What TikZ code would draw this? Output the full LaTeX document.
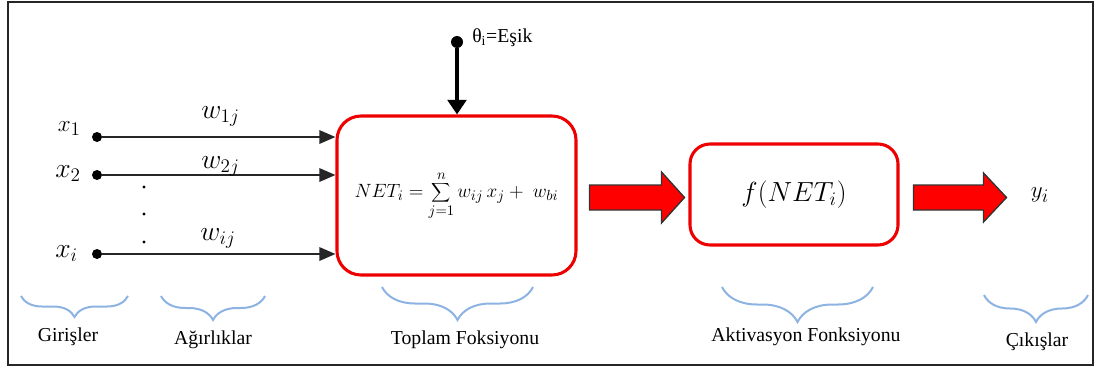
\documentclass[tikz,border=0pt]{standalone}
\usepackage{fontspec}
\setmainfont{Liberation Serif}
\usetikzlibrary{arrows.meta,decorations.pathreplacing,calc}
\definecolor{boxred}{RGB}{238,0,0}
\definecolor{braceblue}{RGB}{141,179,226}
\begin{document}
\begin{tikzpicture}[x=0.75pt,y=-0.75pt,
  lbl/.style={font=\fontsize{14.8}{17}\selectfont, inner sep=0pt},
  redbox/.style={draw=boxred, line width=2.3pt, fill=white},
  indot/.style={circle, fill=black, inner sep=0pt, minimum size=7.5pt},
  thdot/.style={circle, fill=black, inner sep=0pt, minimum size=9pt},
  inarrow/.style={draw=black!85, line width=1.5pt, -{Triangle[length=12pt,width=10pt]}},
  tharrow/.style={draw=black, line width=3.2pt, -{Triangle[length=11pt,width=14pt]}},
  blockarrow/.style={fill=red, draw=black!80, line width=1pt, line join=miter},
  brc/.style={draw=braceblue, line width=1.5pt, decorate,
    decoration={brace, mirror, amplitude=#1}}
]
\useasboundingbox (0,0) rectangle (1096,372);
\draw[line width=1.5pt, black!85] (8,2) rectangle (1093,365);

% boxes
\node[redbox, rounded corners=18pt, minimum width=179.25pt, minimum height=119.25pt,
  font=\fontsize{15}{18}\selectfont] (box1) at (456.5,195.5)
  {$\displaystyle NET_i=\sum_{j=1}^{n} w_{ij}\,x_j+\ w_{bi}$};
\node[redbox, rounded corners=15pt, minimum width=156pt, minimum height=75.75pt,
  font=\fontsize{20}{24}\selectfont] (box2) at (794,194.5) {$f(NET_i)$};

% inputs
\node[indot] (d1) at (97,137) {};
\node[indot] (d2) at (97,175) {};
\node[indot] (d3) at (97,254) {};
\node[anchor=base east, inner sep=0pt, font=\fontsize{19}{22}\selectfont] (x1) at (81,131) {$x_1$};
\node[anchor=base east, inner sep=0pt, font=\fontsize{20}{23}\selectfont] (x2) at (81,177) {$x_2$};
\node[anchor=base east, inner sep=0pt, font=\fontsize{21}{24}\selectfont] (xi) at (78,257) {$x_i$};
\draw[inarrow] (d1) -- (d1 -| box1.west);
\draw[inarrow] (d2) -- (d2 -| box1.west);
\draw[inarrow] (d3) -- (d3 -| box1.west);
\node[anchor=base west, inner sep=0pt, font=\fontsize{22}{25}\selectfont] (w1) at (201,118) {$w_{1j}$};
\node[anchor=base west, inner sep=0pt, font=\fontsize{22}{25}\selectfont] (w2) at (201,168) {$w_{2j}$};
\node[anchor=base west, inner sep=0pt, font=\fontsize{22}{25}\selectfont] (wi) at (200,240) {$w_{ij}$};
\fill (144,187) circle (1.3pt);
\fill (144,214) circle (1.3pt);
\fill (144,242) circle (1.3pt);

% threshold
\node[thdot] (th) at (457,42) {};
\node[lbl, anchor=west] (thl) at (472,38) {θ\textsubscript{i}=Eşik};
\draw[tharrow] (th) -- (th |- box1.north);

% block arrows
\draw[blockarrow] ($(box1.east)+(12,-10.5)$) -- ++(72,0) -- ++(0,-13) -- ++(23,25.5)
  -- ++(-23,25.5) -- ++(0,-13) -- ++(-72,0) -- cycle;
\draw[blockarrow] ($(box2.east)+(14,-9.5)$) -- ++(70,0) -- ++(0,-12) -- ++(23,24.5)
  -- ++(-23,24.5) -- ++(0,-12) -- ++(-70,0) -- cycle;
\node[inner sep=0pt, font=\fontsize{19}{22}\selectfont] (yi) at (1040,195) {$y_i$};

% braces
\draw[brc=15.75pt] (21,296) -- (128,296);
\draw[brc=18pt] (161,296) -- (265,296);
\draw[brc=24.75pt] (382,287) -- (533,287);
\draw[brc=26.25pt] (722,287) -- (873,287);
\draw[brc=20.25pt] (984,295) -- (1088,295);

% labels
\node[lbl] (lg) at (68,337) {Girişler};
\node[lbl] (la) at (213,340) {Ağırlıklar};
\node[lbl] (lt) at (465,340) {Toplam Foksiyonu};
\node[lbl] (lak) at (806,337) {Aktivasyon Fonksiyonu};
\node[lbl] (lc) at (1037,342) {Çıkışlar};
\end{tikzpicture}
\end{document}
